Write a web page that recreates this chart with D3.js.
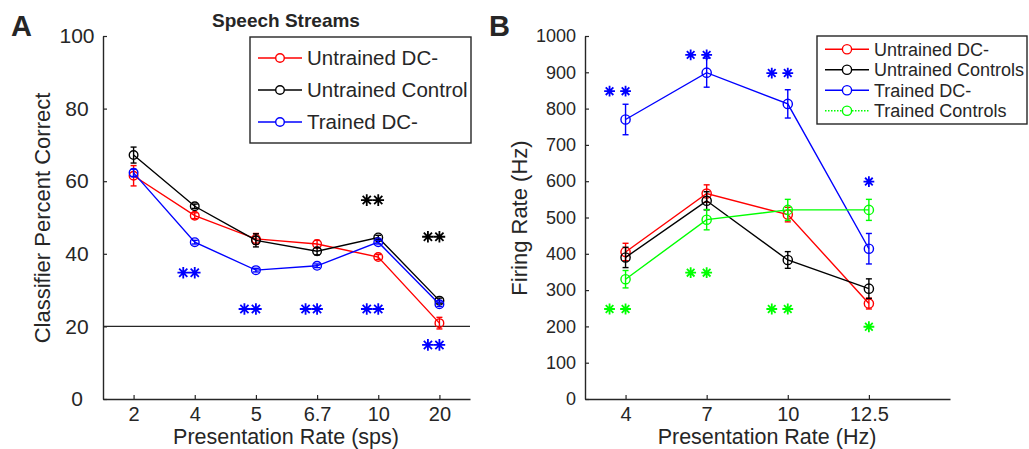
<!DOCTYPE html>
<html>
<head>
<meta charset="utf-8">
<script src="https://cdn.jsdelivr.net/npm/d3@7"></script>
<style>
  body { margin: 0; background: #fff; }
  svg text { font-family: "Liberation Sans", Arial, Helvetica, sans-serif; fill: #262626; }
</style>
</head>
<body>
<div id="chart"></div>
<script>
// ---------- Panel A: classifier accuracy ----------
var ratesA = ["2", "4", "5", "6.7", "10", "20"];
var untrainedDCA     = [61.5, 50.5, 44.1, 42.7, 39.1, 20.9];
var untrainedDCAErr  = [2.8, 0.8, 1.5, 1.0, 0.7, 1.6];
var untrainedCtlA    = [67.2, 53.1, 43.7, 40.7, 44.5, 27.1];
var untrainedCtlAErr = [2.2, 0.6, 1.8, 1.0, 0.6, 0.7];
var trainedDCA       = [62.3, 43.2, 35.5, 36.7, 43.2, 26.1];
var trainedDCAErr    = [1.0, 0.5, 0.5, 0.5, 0.5, 0.6];
var yTicksA = [0, 20, 40, 60, 80, 100];
var chanceA = 20;
// significance markers: rate, height, colour key, number of stars
var starsA = [
  { rate: "10", value: 54.8, key: "ctl", n: 2 },
  { rate: "20", value: 44.7, key: "ctl", n: 2 },
  { rate: "4",  value: 34.8, key: "tdc", n: 2 },
  { rate: "5",  value: 24.8, key: "tdc", n: 2 },
  { rate: "6.7", value: 24.8, key: "tdc", n: 2 },
  { rate: "10", value: 24.8, key: "tdc", n: 2 },
  { rate: "20", value: 14.9, key: "tdc", n: 2 }
];

// ---------- Panel B: firing rate ----------
var ratesB = ["4", "7", "10", "12.5"];
var untrainedDCB     = [405, 566, 508, 263];
var untrainedDCBErr  = [24, 24, 20, 15];
var untrainedCtlB    = [390, 546, 383, 304];
var untrainedCtlBErr = [28, 25, 23, 27];
var trainedDCB       = [770, 899, 813, 414];
var trainedDCBErr    = [42, 40, 39, 42];
var trainedCtlB      = [330, 494, 521, 521];
var trainedCtlBErr   = [24, 28, 29, 29];
var yTicksB = [0, 100, 200, 300, 400, 500, 600, 700, 800, 900, 1000];
var starsB = [
  { rate: "4",    value: 848, key: "tdc", n: 2 },
  { rate: "7",    value: 948, key: "tdc", n: 2 },
  { rate: "10",   value: 898, key: "tdc", n: 2 },
  { rate: "12.5", value: 599, key: "tdc", n: 1 },
  { rate: "4",    value: 248, key: "tctl", n: 2 },
  { rate: "7",    value: 348, key: "tctl", n: 2 },
  { rate: "10",   value: 248, key: "tctl", n: 2 },
  { rate: "12.5", value: 199, key: "tctl", n: 1 }
];

var colors = { udc: "#ff0000", ctl: "#000000", tdc: "#0000ff", tctl: "#00ff00" };
var axisColor = "#262626";

var svg = d3.select("#chart").append("svg")
  .attr("width", 1029)
  .attr("height", 449);

// MATLAB style '*' marker (plus + cross)
var starSymbol = {
  draw: function(ctx, r) {
    var d = r * Math.SQRT1_2;
    ctx.moveTo(-r, 0); ctx.lineTo(r, 0);
    ctx.moveTo(0, -r); ctx.lineTo(0, r);
    ctx.moveTo(-d, -d); ctx.lineTo(d, d);
    ctx.moveTo(-d, d); ctx.lineTo(d, -d);
  }
};

function drawSeries(g, x, y, vals, errs, color, r) {
  var pts = vals.map(function(v, i) { return { i: i + 1, v: v, e: errs[i] }; });
  var line = d3.line().x(d => x(d.i)).y(d => y(d.v));
  g.append("path")
    .datum(pts)
    .attr("fill", "none")
    .attr("stroke", color)
    .attr("stroke-width", 1.4)
    .attr("d", line);

  var eb = g.append("g").selectAll("g").data(pts).enter().append("g")
    .attr("stroke", color)
    .attr("stroke-width", 1.4);
  eb.append("line")
    .attr("x1", d => x(d.i)).attr("x2", d => x(d.i))
    .attr("y1", d => y(d.v - d.e)).attr("y2", d => y(d.v + d.e));
  eb.append("line")
    .attr("x1", d => x(d.i) - 3).attr("x2", d => x(d.i) + 3)
    .attr("y1", d => y(d.v - d.e)).attr("y2", d => y(d.v - d.e));
  eb.append("line")
    .attr("x1", d => x(d.i) - 3).attr("x2", d => x(d.i) + 3)
    .attr("y1", d => y(d.v + d.e)).attr("y2", d => y(d.v + d.e));

  g.append("g").selectAll("circle").data(pts).enter().append("circle")
    .attr("cx", d => x(d.i))
    .attr("cy", d => y(d.v))
    .attr("r", r)
    .attr("fill", "none")
    .attr("stroke", color)
    .attr("stroke-width", 1.4);
}

function drawStars(g, x, y, rates, stars, gap, size) {
  var sym = d3.symbol().type(starSymbol).size(size);
  stars.forEach(function(s) {
    var cx = x(rates.indexOf(s.rate) + 1);
    for (var k = 0; k < s.n; k++) {
      g.append("path")
        .attr("d", sym)
        .attr("transform", `translate(${cx - k * gap}, ${y(s.value)})`)
        .attr("fill", "none")
        .attr("stroke", colors[s.key])
        .attr("stroke-width", 1.8);
    }
  });
}

function styleAxis(sel) {
  sel.selectAll("path.domain").attr("stroke", axisColor).attr("stroke-width", 1.4);
  sel.selectAll(".tick line").attr("stroke", axisColor).attr("stroke-width", 1.2);
  sel.selectAll(".tick text").attr("fill", axisColor).attr("font-family", null);
}

function drawLegend(g, x0, y0, w, h, rows, rowGap, lineLen, fontSize, r) {
  g.append("rect")
    .attr("x", x0).attr("y", y0).attr("width", w).attr("height", h)
    .attr("fill", "#fff").attr("stroke", axisColor).attr("stroke-width", 1.4);
  rows.forEach(function(row, i) {
    var yy = y0 + rowGap * (i + 0.5) + (h - rowGap * rows.length) / 2;
    var lx = x0 + 8;
    g.append("line")
      .attr("x1", lx).attr("x2", lx + lineLen)
      .attr("y1", yy).attr("y2", yy)
      .attr("stroke", row.color).attr("stroke-width", 1.4)
      .attr("stroke-dasharray", row.dotted ? "1.5,1.5" : null);
    g.append("circle")
      .attr("cx", lx + lineLen / 2).attr("cy", yy).attr("r", r)
      .attr("fill", "#fff").attr("stroke", row.color).attr("stroke-width", 1.4);
    g.append("text")
      .attr("x", lx + lineLen + 5).attr("y", yy)
      .attr("dy", "0.36em")
      .style("font-size", fontSize + "px")
      .text(row.label);
  });
}

// ======== Panel A ========
var xA = d3.scaleLinear().domain([0.5, 6.5]).range([103, 470]);
var yA = d3.scaleLinear().domain([0, 100]).range([399, 36]);
var gA = svg.append("g");

var axA = gA.append("g")
  .attr("transform", "translate(0,399)")
  .call(d3.axisBottom(xA).tickValues(d3.range(1, 7))
    .tickFormat((d, i) => ratesA[i]).tickSizeInner(-4).tickSizeOuter(0).tickPadding(8));
axA.selectAll(".tick text").style("font-size", "20px");
styleAxis(axA);

var ayA = gA.append("g")
  .attr("transform", "translate(103,0)")
  .call(d3.axisLeft(yA).tickValues(yTicksA).tickSizeInner(-4).tickSizeOuter(0));
ayA.selectAll(".tick text")
  .attr("x", -26).attr("text-anchor", "middle")
  .style("font-size", "21px");
styleAxis(ayA);

// chance line
gA.append("line")
  .attr("x1", xA(0.5)).attr("x2", xA(6.5))
  .attr("y1", yA(chanceA)).attr("y2", yA(chanceA))
  .attr("stroke", axisColor).attr("stroke-width", 1.4);

drawSeries(gA, xA, yA, untrainedDCA, untrainedDCAErr, colors.udc, 4.3);
drawSeries(gA, xA, yA, untrainedCtlA, untrainedCtlAErr, colors.ctl, 4.3);
drawSeries(gA, xA, yA, trainedDCA, trainedDCAErr, colors.tdc, 4.3);
drawStars(gA, xA, yA, ratesA, starsA, 11.5, 5.8);

drawLegend(gA, 250, 37, 221, 106, [
  { label: "Untrained DC-", color: colors.udc },
  { label: "Untrained Control", color: colors.ctl },
  { label: "Trained DC-", color: colors.tdc }
], 32, 44, 20.5, 4.3);

gA.append("text")
  .attr("x", 286).attr("y", 27)
  .attr("text-anchor", "middle")
  .style("font-size", "19px").style("font-weight", "bold")
  .text("Speech Streams");

gA.append("text")
  .attr("x", 286).attr("y", 444)
  .attr("text-anchor", "middle")
  .style("font-size", "21.5px")
  .text("Presentation Rate (sps)");

gA.append("text")
  .attr("transform", "translate(50,218) rotate(-90)")
  .attr("text-anchor", "middle")
  .style("font-size", "22px")
  .text("Classifier Percent Correct");

gA.append("text")
  .attr("x", 11).attr("y", 36)
  .style("font-size", "29px").style("font-weight", "bold")
  .attr("fill", "#000")
  .text("A");

// ======== Panel B ========
var xB = d3.scaleLinear().domain([0.5, 5]).range([585, 950]);
var yB = d3.scaleLinear().domain([0, 1000]).range([399, 36]);
var gB = svg.append("g");

var axB = gB.append("g")
  .attr("transform", "translate(0,399)")
  .call(d3.axisBottom(xB).tickValues(d3.range(1, 5))
    .tickFormat((d, i) => ratesB[i]).tickSizeInner(-4).tickSizeOuter(0).tickPadding(8));
axB.selectAll(".tick text").style("font-size", "20px");
styleAxis(axB);

var ayB = gB.append("g")
  .attr("transform", "translate(585,0)")
  .call(d3.axisLeft(yB).tickValues(yTicksB).tickFormat(d3.format("d"))
    .tickSizeInner(-4).tickSizeOuter(0).tickPadding(9));
ayB.selectAll(".tick text").style("font-size", "18px");
styleAxis(ayB);

drawSeries(gB, xB, yB, untrainedDCB, untrainedDCBErr, colors.udc, 4.6);
drawSeries(gB, xB, yB, untrainedCtlB, untrainedCtlBErr, colors.ctl, 4.6);
drawSeries(gB, xB, yB, trainedDCB, trainedDCBErr, colors.tdc, 4.6);
drawSeries(gB, xB, yB, trainedCtlB, trainedCtlBErr, colors.tctl, 4.6);
drawStars(gB, xB, yB, ratesB, starsB, 16, 5.4);

drawLegend(gB, 817, 36, 210, 88, [
  { label: "Untrained DC-", color: colors.udc },
  { label: "Untrained Controls", color: colors.ctl },
  { label: "Trained DC-", color: colors.tdc },
  { label: "Trained Controls", color: colors.tctl, dotted: true }
], 20.5, 44, 18, 4.6);

gB.append("text")
  .attr("x", 767).attr("y", 444)
  .attr("text-anchor", "middle")
  .style("font-size", "21.5px")
  .text("Presentation Rate (Hz)");

gB.append("text")
  .attr("transform", "translate(527,218) rotate(-90)")
  .attr("text-anchor", "middle")
  .style("font-size", "22px")
  .text("Firing Rate (Hz)");

gB.append("text")
  .attr("x", 489).attr("y", 36)
  .style("font-size", "29px").style("font-weight", "bold")
  .attr("fill", "#000")
  .text("B");
</script>
</body>
</html>
